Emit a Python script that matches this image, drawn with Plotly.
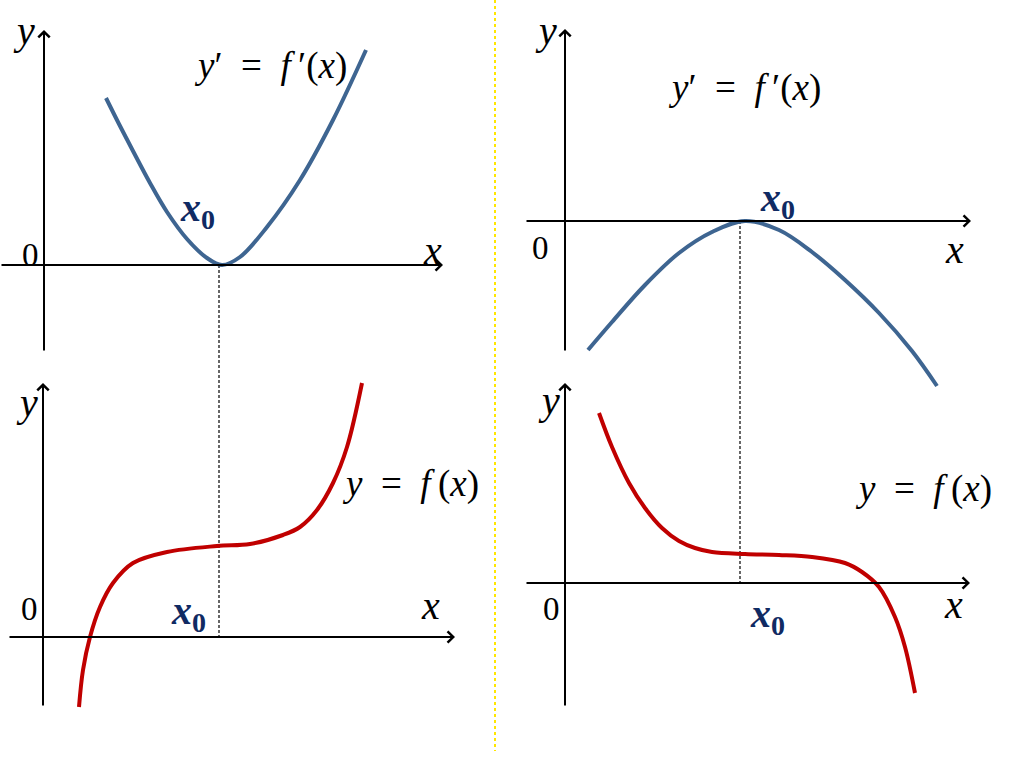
import plotly.graph_objects as go

# ---------------- data (panel units, origin at the axes crossing) ----------------
# top-left: derivative y' = f'(x), touches the x-axis at x0
d1_x = [6.2, 7.5, 8.9, 10.6, 12.3, 14.3, 16.3, 17.8, 19.6, 22.3, 25.6, 28.9, 32.2]
d1_y = [16.7, 14.1, 11.4, 8.2, 5.3, 2.6, 0.7, 0.0, 0.8, 3.8, 8.5, 14.5, 21.5]

# top-right: derivative y' = f'(x), touches the x-axis from below at x0
d2_x = [2.3, 4.7, 8.0, 11.4, 14.7, 18.0, 21.4, 24.7, 28.0, 31.4, 34.7, 37.2]
d2_y = [-12.9, -10.1, -6.4, -3.2, -1.1, 0.0, -0.9, -3.1, -5.9, -9.2, -13.0, -16.5]

# bottom-left: function y = f(x), increasing, inflection at x0
f1_x = [3.6, 4.0, 4.7, 5.7, 7.0, 9.0, 12.4, 17.4, 20.7, 24.0, 25.7, 27.4, 29.0, 30.4, 31.9]
f1_y = [-7.0, -3.3, 0.0, 3.0, 5.4, 7.4, 8.5, 9.1, 9.3, 10.2, 11.0, 12.7, 15.4, 19.0, 25.4]

# bottom-right: function y = f(x), decreasing, inflection at x0
f2_x = [3.4, 4.7, 6.4, 8.0, 9.7, 11.4, 13.0, 14.7, 18.0, 21.4, 24.7, 28.0, 29.7, 31.4,
        33.0, 34.0, 35.0]
f2_y = [17.0, 13.6, 10.0, 7.5, 5.5, 4.2, 3.5, 3.1, 2.9, 2.8, 2.6, 2.0, 1.1, -0.4,
        -3.4, -6.4, -11.0]

x0_left = 17.5
x0_right = 17.5

label_deriv = "<i>y</i>′\u2002=\u2002<i>f</i>\u2009′(<i>x</i>)"
label_func = "<i>y</i>\u2002=\u2002<i>f</i>\u2009(<i>x</i>)"
label_x0 = "<b><i>x</i><sub>0</sub></b>"

# ---------------- layout ----------------
W, H = 1024, 767
S = 10.0  # pixels per unit

BLUE = "#3e6591"
RED = "#c00000"
NAVY = "#102a63"
FONT = "Liberation Serif, Times New Roman, Tinos, DejaVu Serif, serif"

panels = [
    dict(n="", ox=44, oy=265, xa=(-4.4, 39.9), ya=(-8.7, 23.5), dash=(0, -37.2), x0=x0_left,
         cx=d1_x, cy=d1_y, color=BLUE,
         texts=[("<i>y</i>", -2.0, 23.5, 40), ("0", -1.4, 1.0, 33), ("<i>x</i>", 38.8, 1.5, 40),
                (label_deriv, 22.6, 19.9, 37), (label_x0, 15.3, 5.5, 40)]),
    dict(n="2", ox=565, oy=221, xa=(-4.0, 40.6), ya=(-13.1, 19.2), dash=(0, -36.2), x0=x0_right,
         cx=d2_x, cy=d2_y, color=BLUE,
         texts=[("<i>y</i>", -1.9, 19.1, 40), ("0", -2.5, -2.7, 33), ("<i>x</i>", 38.9, -2.8, 40),
                (label_deriv, 17.9, 13.3, 37), (label_x0, 21.2, 2.1, 40)]),
    dict(n="3", ox=43, oy=637, xa=(-3.5, 41.2), ya=(-7.0, 25.4), dash=None, x0=x0_left,
         cx=f1_x, cy=f1_y, color=RED,
         texts=[("<i>y</i>", -1.6, 23.5, 40), ("0", -1.4, 2.8, 33), ("<i>x</i>", 38.7, 3.2, 40),
                (label_func, 36.7, 15.3, 37), (label_x0, 14.5, 2.4, 40)]),
    dict(n="4", ox=565, oy=583, xa=(-4.0, 40.5), ya=(-12.4, 20.0), dash=None, x0=x0_right,
         cx=f2_x, cy=f2_y, color=RED,
         texts=[("<i>y</i>", -1.6, 18.3, 40), ("0", -1.4, -2.6, 33), ("<i>x</i>", 38.8, -2.1, 40),
                (label_func, 35.8, 9.4, 37), (label_x0, 20.2, -3.3, 40)]),
]

fig = go.Figure()
annotations = []
layout_axes = {}

for p in panels:
    xr = "x" + p["n"]
    yr = "y" + p["n"]
    if p["dash"] is not None:
        fig.add_trace(go.Scatter(x=[p["x0"], p["x0"]], y=list(p["dash"]), mode="lines",
                                 line=dict(color="black", width=1.2, dash="3px,2px"),
                                 xaxis=xr, yaxis=yr, hoverinfo="skip", showlegend=False))
    fig.add_trace(go.Scatter(x=p["cx"], y=p["cy"], mode="lines",
                             line=dict(color=p["color"], width=4, shape="spline", smoothing=1.0),
                             xaxis=xr, yaxis=yr, hoverinfo="skip", showlegend=False))
    for (tx, ty, sx, sy) in [(p["xa"][1], 0, p["xa"][0], 0), (0, p["ya"][1], 0, p["ya"][0])]:
        annotations.append(dict(x=tx, y=ty, ax=sx, ay=sy, xref=xr, yref=yr, axref=xr, ayref=yr,
                                text="", showarrow=True, arrowhead=4, arrowsize=1.1,
                                arrowwidth=2, arrowcolor="black", standoff=0, startstandoff=0))
    for (t, tx, ty, sz) in p["texts"]:
        col = NAVY if "sub" in t else "black"
        annotations.append(dict(x=tx, y=ty, xref=xr, yref=yr, text=t, showarrow=False,
                                xanchor="center", yanchor="middle",
                                font=dict(family=FONT, size=sz, color=col)))
    layout_axes["xaxis" + p["n"]] = dict(domain=[0, 1], range=[-p["ox"] / S, (W - p["ox"]) / S],
                                         visible=False, fixedrange=True, anchor=yr)
    layout_axes["yaxis" + p["n"]] = dict(domain=[0, 1], range=[(p["oy"] - H) / S, p["oy"] / S],
                                         visible=False, fixedrange=True, anchor=xr)

fig.update_layout(
    width=W, height=H, autosize=False,
    margin=dict(l=0, r=0, t=0, b=0, pad=0),
    paper_bgcolor="white", plot_bgcolor="rgba(0,0,0,0)",
    showlegend=False,
    font=dict(family=FONT),
    annotations=annotations,
    shapes=[dict(type="line", xref="paper", yref="paper", x0=495 / W, x1=495 / W,
                 y0=1, y1=1 - 751 / H, line=dict(color="#ffe600", width=2, dash="dot"))],
    **layout_axes,
)

fig.write_html("out.html", config={"displayModeBar": False, "staticPlot": True},
               post_script="document.body.style.margin='0px';document.body.style.overflow='hidden';")
